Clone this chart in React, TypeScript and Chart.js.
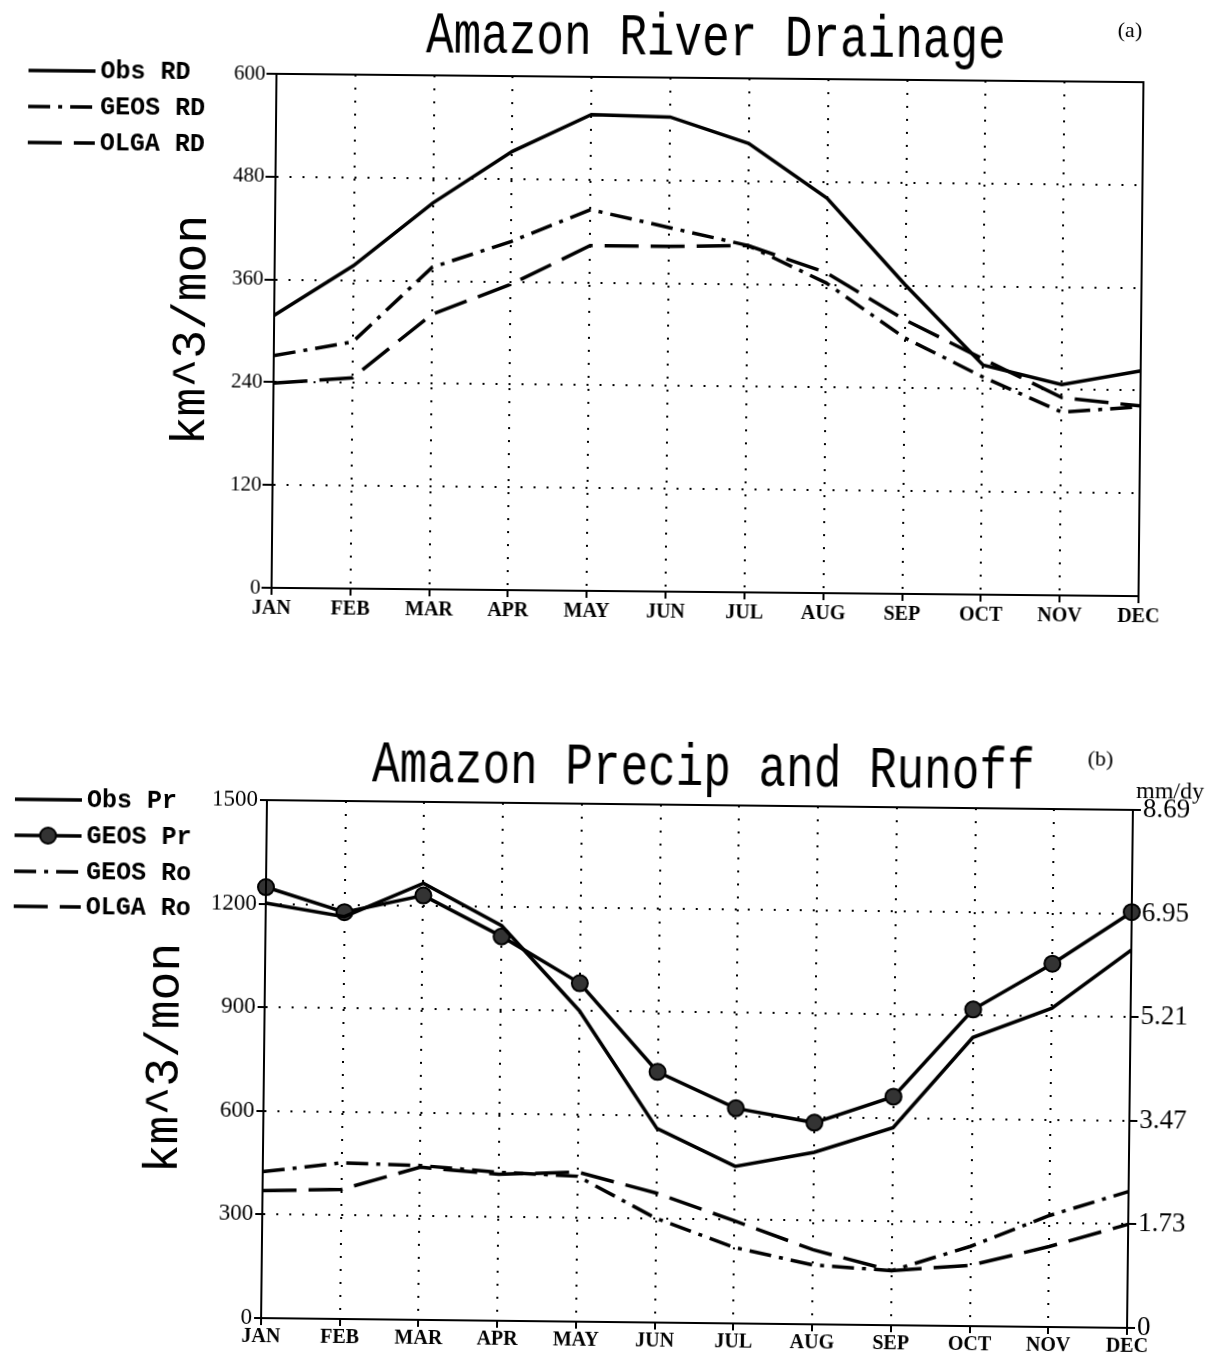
import React, { useEffect, useRef } from "react";
import { Chart, registerables } from "chart.js";

Chart.register(...registerables);

// ---------- data ----------
const months = ["JAN", "FEB", "MAR", "APR", "MAY", "JUN", "JUL", "AUG", "SEP", "OCT", "NOV", "DEC"];

// (a) Amazon River Drainage, km^3/mon
const obsRD = [318, 377, 451, 512, 556, 554, 524, 461, 361, 268, 246, 263];
const geosRD = [271, 288, 376, 407, 445, 425, 405, 362, 299, 254, 214, 221];
const olgaRD = [239, 246, 321, 357, 403, 403, 405, 374, 320, 275, 231, 222];
const topYTicks = [0, 120, 240, 360, 480, 600];

// (b) Amazon Precip and Runoff, km^3/mon
const obsPr = [1202, 1165, 1264, 1144, 900, 562, 455, 498, 572, 836, 923, 1094];
const geosPr = [1248, 1178, 1229, 1113, 980, 726, 623, 584, 662, 917, 1052, 1204];
const geosRo = [424, 452, 447, 430, 421, 302, 220, 172, 158, 231, 323, 395];
const olgaRo = [369, 375, 442, 424, 433, 375, 297, 216, 158, 176, 233, 300];
const bottomYTicks = [0, 300, 600, 900, 1200, 1500];
const rightTickLabels = ["0", "1.73", "3.47", "5.21", "6.95", "8.69"];

// ---------- styles ----------
const DASH_DOT = [22, 8, 4, 8];
const LONG_DASH = [34, 12];
const BLACK = "#000";
const LINE_W = 3.5;

type TextItem = { text: string; x: number; y: number; font: string; align: CanvasTextAlign; stretch?: number };
type LegendItem = { label: string; x1: number; x2: number; y: number; dash: number[]; point?: boolean };

function makeDecorPlugin(texts: TextItem[], legend: LegendItem[], legendFont: string) {
  return {
    id: "decor",
    afterDraw(chart: any) {
      const ctx: CanvasRenderingContext2D = chart.ctx;
      const a = chart.chartArea;
      ctx.save();
      ctx.setLineDash([]);
      ctx.strokeStyle = BLACK;
      ctx.lineWidth = 2;
      ctx.strokeRect(a.left, a.top, a.right - a.left, a.bottom - a.top);
      ctx.fillStyle = BLACK;
      for (const t of texts) {
        ctx.save();
        ctx.font = t.font;
        ctx.textAlign = t.align;
        ctx.textBaseline = "alphabetic";
        ctx.translate(t.x, t.y);
        ctx.scale(1, t.stretch || 1);
        ctx.fillText(t.text, 0, 0);
        ctx.restore();
      }
      for (const l of legend) {
        ctx.save();
        ctx.strokeStyle = BLACK;
        ctx.lineWidth = LINE_W;
        ctx.setLineDash(l.dash);
        ctx.beginPath();
        ctx.moveTo(l.x1, l.y);
        ctx.lineTo(l.x2, l.y);
        ctx.stroke();
        ctx.setLineDash([]);
        if (l.point) {
          ctx.beginPath();
          ctx.arc((l.x1 + l.x2) / 2, l.y, 8, 0, Math.PI * 2);
          ctx.fillStyle = "#333";
          ctx.fill();
          ctx.lineWidth = 2;
          ctx.stroke();
        }
        ctx.fillStyle = BLACK;
        ctx.font = legendFont;
        ctx.textAlign = "left";
        ctx.textBaseline = "middle";
        ctx.fillText(l.label, l.x2 + 5, l.y + 1);
        ctx.restore();
      }
      ctx.restore();
    },
  };
}

function lineDs(label: string, data: number[], dash: number[], point = false) {
  return {
    label,
    data,
    borderColor: BLACK,
    backgroundColor: BLACK,
    borderWidth: LINE_W,
    borderDash: dash,
    tension: 0,
    fill: false,
    pointRadius: point ? 8 : 0,
    pointBackgroundColor: "#333",
    pointBorderColor: BLACK,
    pointBorderWidth: 2,
  };
}

function gridOpts(tickLength: number, onArea = true) {
  return {
    display: true,
    drawOnChartArea: onArea,
    color: BLACK,
    lineWidth: 2,
    tickLength,
    tickColor: BLACK,
    tickWidth: 2,
    tickBorderDash: [],
  };
}

function TopChart() {
  const ref = useRef<HTMLCanvasElement>(null);
  useEffect(() => {
    const texts: TextItem[] = [
      { text: "Amazon River Drainage", x: 713, y: 55, font: "46px 'Liberation Mono'", align: "center", stretch: 1.3 },
      { text: "(a)", x: 1127, y: 33, font: "22px 'Liberation Serif'", align: "center" },
    ];
    const legend: LegendItem[] = [
      { label: "Obs RD", x1: 26, x2: 93, y: 77, dash: [] },
      { label: "GEOS RD", x1: 26, x2: 93, y: 113, dash: DASH_DOT },
      { label: "OLGA RD", x1: 26, x2: 93, y: 149, dash: LONG_DASH },
    ];
    const chart = new Chart(ref.current as HTMLCanvasElement, {
      type: "line",
      data: {
        labels: months,
        datasets: [
          lineDs("Obs RD", obsRD, []),
          lineDs("GEOS RD", geosRD, DASH_DOT),
          lineDs("OLGA RD", olgaRD, LONG_DASH),
        ],
      },
      options: {
        responsive: false,
        animation: false,
        devicePixelRatio: 1,
        layout: { padding: { left: 163, right: 67, top: 78, bottom: 28 } },
        plugins: { legend: { display: false }, tooltip: { enabled: false }, title: { display: false } },
        scales: {
          x: {
            type: "category",
            offset: false,
            grid: { ...gridOpts(7), offset: false },
            border: { display: true, color: BLACK, width: 2, dash: [2, 11] },
            ticks: {
              color: BLACK,
              font: { family: "'Liberation Serif'", size: 20, weight: "bold" },
              padding: 2,
              maxRotation: 0,
              autoSkip: false,
            },
            afterFit: (s: any) => {
              s.height = 40;
            },
          },
          y: {
            min: 0,
            max: 600,
            afterBuildTicks: (s: any) => {
              s.ticks = topYTicks.map((v) => ({ value: v }));
            },
            grid: gridOpts(10),
            border: { display: true, color: BLACK, width: 2, dash: [2, 11] },
            ticks: {
              color: BLACK,
              font: { family: "'Liberation Serif'", size: 21 },
              padding: 1,
              callback: (v: any) => String(v),
            },
            title: {
              display: true,
              text: "km^3/mon",
              color: BLACK,
              font: { family: "'Liberation Mono'", size: 48 },
              padding: 0,
            },
            afterFit: (s: any) => {
              s.width = 111;
            },
          },
        },
      } as any,
      plugins: [makeDecorPlugin(texts, legend, "bold 25px 'Liberation Mono'")],
    });
    return () => chart.destroy();
  }, []);
  return (
    <canvas
      ref={ref}
      width={1208}
      height={660}
      style={{
        position: "absolute",
        left: 0,
        top: 0,
        width: 1208,
        height: 660,
        transform: "rotate(0.55deg)",
        transformOrigin: "708px 335px",
      }}
    />
  );
}

function BottomChart() {
  const ref = useRef<HTMLCanvasElement>(null);
  useEffect(() => {
    const texts: TextItem[] = [
      { text: "Amazon Precip and Runoff", x: 700, y: 125, font: "46px 'Liberation Mono'", align: "center", stretch: 1.3 },
      { text: "(b)", x: 1097, y: 101, font: "22px 'Liberation Serif'", align: "center" },
      { text: "mm/dy", x: 1167, y: 133, font: "24px 'Liberation Serif'", align: "center" },
    ];
    const legend: LegendItem[] = [
      { label: "Obs Pr", x1: 12, x2: 79, y: 147, dash: [] },
      { label: "GEOS Pr", x1: 12, x2: 79, y: 183, dash: [], point: true },
      { label: "GEOS Ro", x1: 12, x2: 79, y: 219, dash: DASH_DOT },
      { label: "OLGA Ro", x1: 12, x2: 79, y: 254, dash: LONG_DASH },
    ];
    const chart = new Chart(ref.current as HTMLCanvasElement, {
      type: "line",
      data: {
        labels: months,
        datasets: [
          lineDs("Obs Pr", obsPr, []),
          lineDs("GEOS Pr", geosPr, [], true),
          lineDs("GEOS Ro", geosRo, DASH_DOT),
          lineDs("OLGA Ro", olgaRo, LONG_DASH),
        ],
      },
      options: {
        responsive: false,
        animation: false,
        devicePixelRatio: 1,
        layout: { padding: { left: 136, right: 8, top: 145, bottom: 2 } },
        plugins: { legend: { display: false }, tooltip: { enabled: false }, title: { display: false } },
        scales: {
          x: {
            type: "category",
            offset: false,
            grid: { ...gridOpts(7), offset: false },
            border: { display: true, color: BLACK, width: 2, dash: [2, 11] },
            ticks: {
              color: BLACK,
              font: { family: "'Liberation Serif'", size: 20, weight: "bold" },
              padding: 0,
              maxRotation: 0,
              autoSkip: false,
            },
            afterFit: (s: any) => {
              s.height = 32;
            },
          },
          y: {
            min: 0,
            max: 1500,
            afterBuildTicks: (s: any) => {
              s.ticks = bottomYTicks.map((v) => ({ value: v }));
            },
            grid: gridOpts(7),
            border: { display: true, color: BLACK, width: 2, dash: [2, 11] },
            ticks: {
              color: BLACK,
              font: { family: "'Liberation Serif'", size: 23 },
              padding: 2,
              callback: (v: any) => String(v),
            },
            title: {
              display: true,
              text: "km^3/mon",
              color: BLACK,
              font: { family: "'Liberation Mono'", size: 48 },
              padding: 0,
            },
            afterFit: (s: any) => {
              s.width = 128;
            },
          },
          y2: {
            position: "right",
            min: 0,
            max: 1500,
            afterBuildTicks: (s: any) => {
              s.ticks = bottomYTicks.map((v) => ({ value: v }));
            },
            grid: gridOpts(8, false),
            border: { display: true, color: BLACK, width: 2 },
            ticks: {
              color: BLACK,
              font: { family: "'Liberation Serif'", size: 27 },
              padding: 2,
              callback: (v: any) => rightTickLabels[bottomYTicks.indexOf(Number(v))],
            },
            afterFit: (s: any) => {
              s.width = 70;
            },
          },
        },
      } as any,
      plugins: [makeDecorPlugin(texts, legend, "bold 25px 'Liberation Mono'")],
    });
    return () => chart.destroy();
  }, []);
  return (
    <canvas
      ref={ref}
      width={1208}
      height={697}
      style={{
        position: "absolute",
        left: 0,
        top: 660,
        width: 1208,
        height: 697,
        transform: "rotate(0.65deg)",
        transformOrigin: "697px 404px",
      }}
    />
  );
}

export default function App() {
  return (
    <div style={{ position: "absolute", left: 0, top: 0, width: 1208, height: 1357, background: "#fff", overflow: "hidden" }}>
      <TopChart />
      <BottomChart />
    </div>
  );
}
